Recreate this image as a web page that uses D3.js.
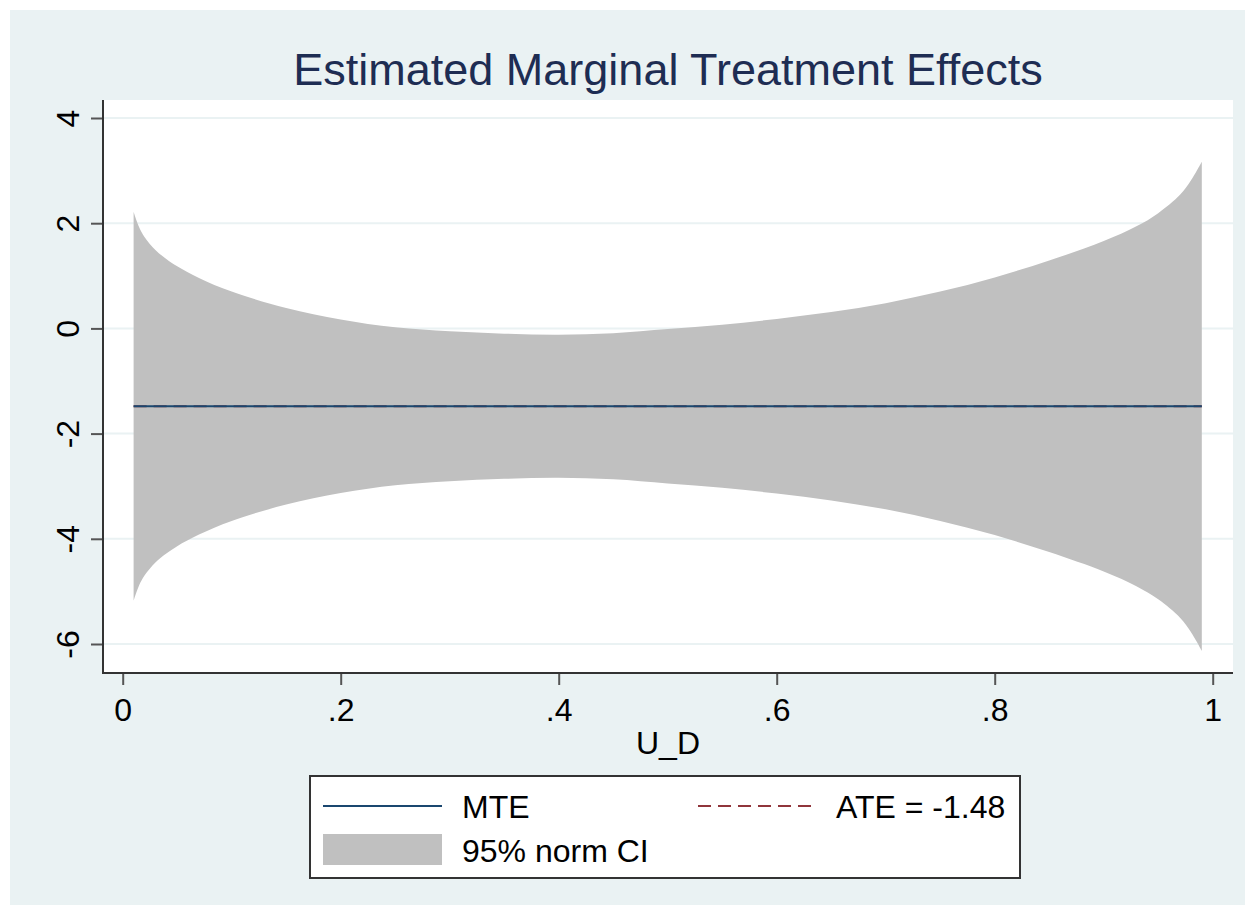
<!DOCTYPE html>
<html>
<head>
<meta charset="utf-8">
<script src="https://cdn.jsdelivr.net/npm/d3@7"></script>
<style>
  html, body { margin: 0; padding: 0; background: #ffffff; }
  svg { display: block; font-family: "Liberation Sans", Arial, sans-serif; }
</style>
</head>
<body>
<svg id="chart" width="1255" height="915"></svg>
<script>
// Unobserved resistance grid (U_D) and the estimated curves
const uD = [0.01, 0.015, 0.02, 0.03, 0.04, 0.05, 0.07, 0.10, 0.15, 0.20, 0.25, 0.30, 0.35, 0.40, 0.45,
            0.50, 0.55, 0.60, 0.65, 0.70, 0.75, 0.80, 0.85, 0.90, 0.93, 0.95, 0.97, 0.98, 0.99];
const mte = [-1.48, -1.48, -1.48, -1.48, -1.48, -1.48, -1.48, -1.48, -1.48, -1.48, -1.48, -1.48, -1.48, -1.48, -1.48,
             -1.48, -1.48, -1.48, -1.48, -1.48, -1.48, -1.48, -1.48, -1.48, -1.48, -1.48, -1.48, -1.48, -1.48];
const ciUpper = [2.22, 1.93, 1.74, 1.49, 1.32, 1.18, 0.96, 0.70, 0.39, 0.17, 0.02, -0.055, -0.10, -0.12, -0.09,
                 -0.01, 0.07, 0.18, 0.31, 0.48, 0.70, 0.97, 1.29, 1.66, 1.94, 2.19, 2.54, 2.81, 3.17];
const ciLower = [-5.18, -4.89, -4.70, -4.45, -4.28, -4.14, -3.92, -3.66, -3.35, -3.13, -2.98, -2.905, -2.86, -2.84, -2.87,
                 -2.95, -3.03, -3.14, -3.27, -3.44, -3.66, -3.93, -4.25, -4.62, -4.90, -5.15, -5.50, -5.77, -6.13];
const ate = -1.48;

const xTicks = [0, 0.2, 0.4, 0.6, 0.8, 1];
const xTickLabels = ["0", ".2", ".4", ".6", ".8", "1"];
const yTicks = [-6, -4, -2, 0, 2, 4];
const yTickLabels = ["-6", "-4", "-2", "0", "2", "4"];

const titleText = "Estimated Marginal Treatment Effects";
const xTitle = "U_D";
const legendLabels = ["MTE", "ATE = -1.48", "95% norm CI"];

const colors = {
  outer: "#eaf2f3",
  plot: "#ffffff",
  grid: "#eaf2f3",
  band: "#c0c0c0",
  mte: "#1a476f",
  ate: "#90353b",
  title: "#1e2d53",
  axis: "#333333",
  text: "#000000"
};

const labelSize = 32;

const svg = d3.select("#chart");
const W = 1255, H = 915;

// Outer graph region
svg.append("rect").attr("x", 10).attr("y", 10).attr("width", W - 20).attr("height", H - 20)
  .attr("fill", colors.outer);

const plot = { left: 103, right: 1233, top: 100, bottom: 673 };

const x = d3.scaleLinear().domain([0, 1]).range([122.7, 1212.7]);
const y = d3.scaleLinear().domain([-6, 4]).range([644, 118]);

// Plot region
svg.append("rect").attr("x", plot.left).attr("y", plot.top)
  .attr("width", plot.right - plot.left).attr("height", plot.bottom - plot.top)
  .attr("fill", colors.plot);

// Horizontal grid lines
svg.append("g").selectAll("line").data(yTicks).join("line")
  .attr("x1", plot.left).attr("x2", plot.right)
  .attr("y1", d => y(d)).attr("y2", d => y(d))
  .attr("stroke", colors.grid).attr("stroke-width", 2);

const rows = uD.map((u, i) => ({ u, lo: ciLower[i], hi: ciUpper[i], m: mte[i] }));

// Confidence band
const area = d3.area().curve(d3.curveCatmullRom.alpha(0.5))
  .x(d => x(d.u)).y0(d => y(d.lo)).y1(d => y(d.hi));
svg.append("path").datum(rows).attr("d", area).attr("fill", colors.band);

// ATE reference (dashed), then MTE on top
svg.append("line")
  .attr("x1", x(uD[0])).attr("x2", x(uD[uD.length - 1]))
  .attr("y1", y(ate)).attr("y2", y(ate))
  .attr("stroke", colors.ate).attr("stroke-width", 2).attr("stroke-dasharray", "13,7");

const line = d3.line().x(d => x(d.u)).y(d => y(d.m));
svg.append("path").datum(rows).attr("d", line)
  .attr("fill", "none").attr("stroke", colors.mte).attr("stroke-width", 2);

// Y axis
const yAxis = d3.axisLeft(y).tickValues(yTicks).tickSize(12)
  .tickFormat((d, i) => yTickLabels[i]);
const gy = svg.append("g").attr("transform", `translate(${plot.left},0)`).call(yAxis);
gy.select(".domain").remove();
gy.selectAll(".tick line").attr("stroke", "#555555").attr("stroke-width", 2);
gy.selectAll(".tick text")
  .attr("font-size", labelSize).attr("fill", colors.text)
  .attr("x", 0).attr("dy", 0)
  .attr("text-anchor", "middle")
  .attr("transform", "translate(-24,0) rotate(-90)");
svg.append("line").attr("x1", plot.left).attr("x2", plot.left)
  .attr("y1", plot.top).attr("y2", plot.bottom + 1)
  .attr("stroke", colors.axis).attr("stroke-width", 2);

// X axis
const xAxis = d3.axisBottom(x).tickValues(xTicks).tickSize(12)
  .tickFormat((d, i) => xTickLabels[i]);
const gx = svg.append("g").attr("transform", `translate(0,${plot.bottom})`).call(xAxis);
gx.select(".domain").remove();
gx.selectAll(".tick line").attr("stroke", "#555555").attr("stroke-width", 2);
gx.selectAll(".tick text").attr("font-size", labelSize).attr("fill", colors.text)
  .attr("y", 48).attr("dy", 0);
svg.append("line").attr("x1", plot.left - 1).attr("x2", plot.right)
  .attr("y1", plot.bottom).attr("y2", plot.bottom)
  .attr("stroke", colors.axis).attr("stroke-width", 2);

// Titles
const cx = (plot.left + plot.right) / 2;
svg.append("text").attr("x", cx).attr("y", 85).attr("text-anchor", "middle")
  .attr("font-size", 45).attr("fill", colors.title).text(titleText);
svg.append("text").attr("x", cx).attr("y", 754).attr("text-anchor", "middle")
  .attr("font-size", labelSize).attr("fill", colors.text).text(xTitle);

// Legend
const lg = svg.append("g");
lg.append("rect").attr("x", 310).attr("y", 776).attr("width", 710).attr("height", 102)
  .attr("fill", "#ffffff").attr("stroke", "#333333").attr("stroke-width", 2);
lg.append("line").attr("x1", 323).attr("x2", 442).attr("y1", 806).attr("y2", 806)
  .attr("stroke", colors.mte).attr("stroke-width", 2);
lg.append("text").attr("x", 462).attr("y", 818).attr("font-size", labelSize).attr("fill", colors.text)
  .text(legendLabels[0]);
lg.append("line").attr("x1", 698).attr("x2", 818).attr("y1", 806).attr("y2", 806)
  .attr("stroke", colors.ate).attr("stroke-width", 2).attr("stroke-dasharray", "13,7");
lg.append("text").attr("x", 836).attr("y", 818).attr("font-size", labelSize).attr("fill", colors.text)
  .text(legendLabels[1]);
lg.append("rect").attr("x", 323).attr("y", 834).attr("width", 119).attr("height", 31)
  .attr("fill", colors.band);
lg.append("text").attr("x", 462).attr("y", 862).attr("font-size", labelSize).attr("fill", colors.text)
  .text(legendLabels[2]);
</script>
</body>
</html>
